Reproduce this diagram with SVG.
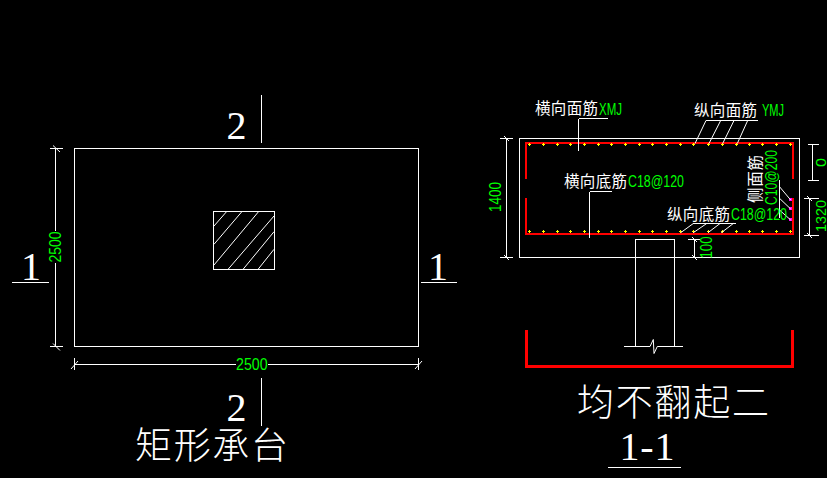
<svg xmlns="http://www.w3.org/2000/svg" width="827" height="478" viewBox="0 0 827 478">
<style>
.l{fill:none;stroke:#fff;stroke-width:1;shape-rendering:crispEdges}
.d{fill:none;stroke:#fff;stroke-width:1}
.r{fill:none;stroke:#f00;stroke-width:2.4;shape-rendering:crispEdges}
.g{fill:#0f0;font-family:"Liberation Sans",sans-serif;font-size:16px}
.gs{fill:#0f0;font-family:"Liberation Sans",sans-serif;font-size:14px}
.c{fill:#fff;font-family:"Noto Sans CJK SC",sans-serif;font-size:15.5px}
.t{fill:#fff;font-family:"Noto Sans CJK SC",sans-serif;font-size:37px;font-weight:300}
.n{fill:#fff;font-family:"Liberation Serif",serif;font-size:40px}
.y{fill:none;stroke:#ff0;stroke-width:1;shape-rendering:crispEdges}
.p{fill:#f0f}
</style>
<defs>
<path id="b" d="M-1 0.5H2M0.5 -1V2" class="y"/>
</defs>
<rect width="827" height="478" fill="#000"/>

<g id="plan">
<rect class="l" x="74.5" y="148.5" width="344" height="198"/>
<rect class="l" x="213.5" y="211.5" width="61" height="58"/>
<path class="d" d="M214 226L226.7 211.5M214 244.3L242 211.5M214 265L258.7 211.5M228.3 269L274 216M243.3 269L274 231.7M258.3 269L274 249.3"/>
</g>

<g id="plan-dims">
<path class="l" d="M55.5 148.5V231M55.5 263V346.5M50 148.5H63M50 346.5H63"/>
<path class="d" d="M53 145.5L60 152M53 343.5L60 350.5"/>
<text class="g" transform="translate(60.5 262.5) rotate(-90)" textLength="31" lengthAdjust="spacingAndGlyphs">2500</text>
<path class="l" d="M74.5 364.5H236M268 364.5H418.5M74.5 358V370M418.5 358V370"/>
<path class="d" d="M71 369L78 361M415 369L422 361"/>
<text class="g" x="236" y="370" textLength="31.5" lengthAdjust="spacingAndGlyphs">2500</text>
</g>

<g id="section-marks">
<path class="l" d="M261.5 95V143M261.5 378V426M12 282.5H49M421 282.5H457"/>
<text class="n" x="226.5" y="139">2</text>
<text class="n" x="226.5" y="421">2</text>
<text class="n" x="21" y="280">1</text>
<text class="n" x="428" y="280">1</text>
</g>

<text id="title-left" class="t" x="135" y="459" textLength="153" lengthAdjust="spacing">矩形承台</text>

<g id="section">
<rect class="l" x="519.5" y="138.5" width="280" height="119"/>
<path class="l" d="M635.5 257.5V239.5H674.5V346M635.5 239.5V346"/>
<path class="d" d="M624 346.5H650L653.3 339.5L654 353.5L657.3 346.5H683"/>
</g>

<g id="rebar">
<path class="r" d="M526 179V143H793V179"/>
<path class="r" d="M526 198V234H793V198"/>
<path class="r" d="M526.5 330V366.5H792.5V330"/>
</g>

<g id="bars-top">
<use href="#b" x="529" y="144"/><use href="#b" x="543" y="144"/><use href="#b" x="557" y="144"/><use href="#b" x="570" y="144"/><use href="#b" x="584" y="144"/><use href="#b" x="598" y="144"/><use href="#b" x="611" y="144"/><use href="#b" x="625" y="144"/><use href="#b" x="639" y="144"/><use href="#b" x="652" y="144"/><use href="#b" x="666" y="144"/><use href="#b" x="680" y="144"/><use href="#b" x="693" y="144"/><use href="#b" x="708" y="144"/><use href="#b" x="722" y="144"/><use href="#b" x="736" y="144"/><use href="#b" x="749" y="144"/><use href="#b" x="762" y="144"/><use href="#b" x="776" y="144"/><use href="#b" x="790" y="144"/>
</g>
<g id="bars-bottom">
<use href="#b" x="529" y="231"/><use href="#b" x="543" y="231"/><use href="#b" x="557" y="231"/><use href="#b" x="570" y="231"/><use href="#b" x="584" y="231"/><use href="#b" x="598" y="231"/><use href="#b" x="611" y="231"/><use href="#b" x="625" y="231"/><use href="#b" x="639" y="231"/><use href="#b" x="652" y="231"/><use href="#b" x="666" y="231"/><use href="#b" x="680" y="231"/><use href="#b" x="693" y="231"/><use href="#b" x="708" y="231"/><use href="#b" x="722" y="231"/><use href="#b" x="736" y="231"/><use href="#b" x="749" y="231"/><use href="#b" x="762" y="231"/><use href="#b" x="776" y="231"/><use href="#b" x="790" y="231"/>
</g>
<g id="bars-side">
<rect class="p" x="789" y="198" width="3" height="3"/>
<rect class="p" x="789" y="207" width="3" height="3"/>
<rect class="p" x="789" y="218" width="3" height="3"/>
</g>

<g id="connectors">
<path class="l" d="M578.5 118.5H608M578.5 118.5V151M706 120.5H758M589.5 191.5H612M589.5 191.5V238M693 223.5H736M779.5 180V218"/>
<path class="d" d="M706 120.5L695 143.5M720.7 120.5L709 143.5M734 120.5L722.7 143.5M747.7 120.5L737.3 143.5"/>
<path class="d" d="M693.3 223.5L680.7 232.7M706.7 223.5L693.3 232.7M720 223.5L708 232.7M733.3 223.5L721.3 232.7"/>
<path class="d" d="M779.5 186.7L790.7 200M779.5 198.3L790.7 209M779.5 210L790.7 220"/>
</g>

<g id="section-dims">
<path class="l" d="M506.5 138.5V257.5M500 138.5H513M500 257.5H513"/>
<path class="d" d="M504 136L509 141M504 255L509 260"/>
<text class="g" transform="translate(501 212) rotate(-90)" textLength="30" lengthAdjust="spacingAndGlyphs">1400</text>
<path class="l" d="M812.5 144.5V180.5M807.5 144.5H818.5M807.5 180.5H818.5"/>
<text class="gs" transform="translate(826 167) rotate(-90)" textLength="9" lengthAdjust="spacingAndGlyphs">0</text>
<path class="l" d="M809.5 198.5V235.5M804 198.5H819M804 235.5H819"/>
<path class="d" d="M807 196L812 201M807 233L812 238"/>
<text class="gs" transform="translate(826 232) rotate(-90)" textLength="32" lengthAdjust="spacingAndGlyphs">1320</text>
<path class="l" d="M694.5 239.5V257.5M688 239.5H700"/>
<path class="d" d="M692 237L697 242M692 255L697 260"/>
<text class="g" transform="translate(712 258.5) rotate(-90)" textLength="22" lengthAdjust="spacingAndGlyphs">100</text>
</g>

<g id="labels">
<text class="c" x="535" y="114" textLength="63">横向面筋</text>
<text class="g" x="599" y="115" textLength="23" lengthAdjust="spacingAndGlyphs">XMJ</text>
<text class="c" x="694" y="116" textLength="63">纵向面筋</text>
<text class="g" x="762" y="116" textLength="22" lengthAdjust="spacingAndGlyphs">YMJ</text>
<text class="c" x="564" y="187" textLength="63">横向底筋</text>
<text class="g" x="628" y="187" textLength="56" lengthAdjust="spacingAndGlyphs">C18@120</text>
<text class="c" x="667" y="220" textLength="63">纵向底筋</text>
<text class="g" x="731" y="220" textLength="56" lengthAdjust="spacingAndGlyphs">C18@120</text>
<text class="c" transform="translate(761 203) rotate(-90)" textLength="48">侧面筋</text>
<text class="g" transform="translate(777 205) rotate(-90)" textLength="55" lengthAdjust="spacingAndGlyphs">C10@200</text>
</g>

<text id="title-right" class="t" x="577" y="416" textLength="192" lengthAdjust="spacing">均不翻起二</text>
<g id="section-title">
<text class="n" x="619.5" y="460" textLength="55">1-1</text>
<path class="l" d="M608 467.5H681"/>
</g>
</svg>
